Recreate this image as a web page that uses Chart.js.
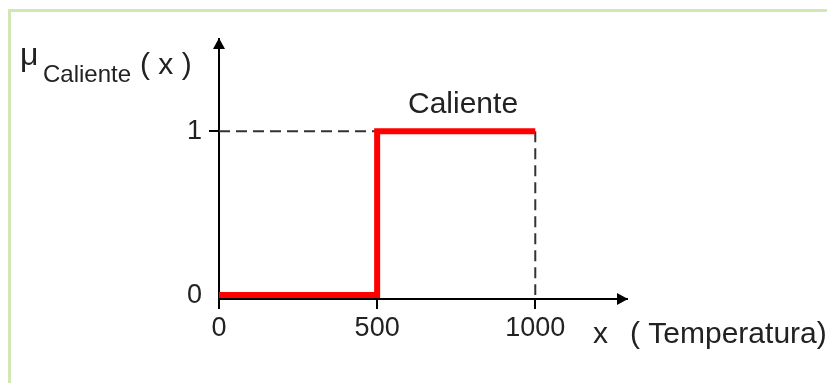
<!DOCTYPE html>
<html lang="es">
  <head>
    <meta charset="utf-8">
    <title>Caliente</title>
    <script src="https://cdn.jsdelivr.net/npm/chart.js"></script>
    <style>
      body { margin: 0; background: #fff; }
      #wrap { position: relative; width: 827px; height: 383px; }
      #frame { position: absolute; left: 8px; top: 9px; right: -10px; bottom: -10px;
               border-top: 3px solid #cfe8b4; border-left: 3px solid #cfe8b4; pointer-events: none; }
      canvas { position: absolute; left: 0; top: 0; }
    </style>
  </head>
  <body>
    <div id="wrap">
      <canvas id="myChart" width="827" height="383"></canvas>
      <div id="frame"></div>
    </div>
    <script>
      // membership function of "Caliente"
      var xValues = [0, 500, 500, 1000];
      var muValues = [0, 0, 1, 1];
      var xTicks = [0, 500, 1000];
      var yTicks = [0, 1];
      var setLabel = "Caliente";

      var FONT = '"Liberation Sans", Arial, sans-serif';

      var curve = xValues.map(function (x, i) { return { x: x, y: muValues[i] }; });
      // dashed guides to the plateau
      var guideH = [{ x: 0, y: 1 }, { x: 500, y: 1 }];
      var guideV = [{ x: 1000, y: 1 }, { x: 1000, y: 0 }];

      var decor = {
        id: "decor",
        afterDraw: function (chart) {
          var ctx = chart.ctx;
          var a = chart.chartArea;
          var sx = chart.scales.x, sy = chart.scales.y;
          ctx.save();
          // tick marks
          ctx.strokeStyle = "#000";
          ctx.lineWidth = 2;
          ctx.beginPath();
          xTicks.forEach(function (v) {
            var px = Math.round(sx.getPixelForValue(v));
            ctx.moveTo(px, a.bottom);
            ctx.lineTo(px, a.bottom + 10);
          });
          yTicks.forEach(function (v) {
            if (v === 0) return;
            var py = Math.round(sy.getPixelForValue(v));
            ctx.moveTo(a.left - 10, py);
            ctx.lineTo(a.left, py);
          });
          ctx.stroke();

          // arrow heads
          ctx.fillStyle = "#000";
          ctx.beginPath();
          ctx.moveTo(a.left, a.top - 1);
          ctx.lineTo(a.left - 6, a.top + 10);
          ctx.lineTo(a.left + 6, a.top + 10);
          ctx.closePath();
          ctx.fill();
          ctx.beginPath();
          ctx.moveTo(a.right + 1, a.bottom);
          ctx.lineTo(a.right - 10, a.bottom - 6);
          ctx.lineTo(a.right - 10, a.bottom + 6);
          ctx.closePath();
          ctx.fill();

          ctx.fillStyle = "#222";
          ctx.textBaseline = "alphabetic";
          ctx.textAlign = "left";
          ctx.font = "32px " + FONT;
          ctx.fillText("\u03BC", 20, 65);
          ctx.font = "24px " + FONT;
          ctx.fillText(setLabel, 43, 82);
          ctx.font = "30px " + FONT;
          ctx.fillText("( x )", 140, 74);
          ctx.fillText(setLabel, 408, 113);
          ctx.fillText("x", 593, 343);
          ctx.fillText("( Temperatura)", 630, 343);
          ctx.restore();
        }
      };

      new Chart("myChart", {
        type: "line",
        data: {
          datasets: [
            { data: curve, borderColor: "#ff0000", borderWidth: 6, pointRadius: 0, tension: 0 },
            { data: guideH, borderColor: "#333", borderWidth: 2, borderDash: [11, 6], pointRadius: 0 },
            { data: guideV, borderColor: "#333", borderWidth: 2, borderDash: [11, 6], pointRadius: 0 }
          ]
        },
        options: {
          responsive: false,
          animation: false,
          devicePixelRatio: 1,
          layout: { padding: { left: 0, top: 39, right: 200, bottom: 0 } },
          plugins: { legend: { display: false }, tooltip: { enabled: false } },
          scales: {
            x: {
              type: "linear",
              min: 0,
              max: 1290,
              afterBuildTicks: function (s) { s.ticks = xTicks.map(function (v) { return { value: v }; }); },
              afterFit: function (s) { s.height = 84; },
              ticks: {
                color: "#222", font: { family: FONT, size: 27 }, padding: 3, maxRotation: 0,
                callback: function (v) { return String(v); }
              },
              grid: { drawOnChartArea: false, drawTicks: true, tickLength: 10, color: "rgba(0,0,0,0)" },
              border: { display: true, color: "#000", width: 2 }
            },
            y: {
              type: "linear",
              min: -0.024,
              max: 1.564,
              afterBuildTicks: function (s) { s.ticks = yTicks.map(function (v) { return { value: v }; }); },
              afterFit: function (s) { s.width = 219; },
              ticks: { color: "#222", font: { family: FONT, size: 27 }, padding: 7 },
              grid: { drawOnChartArea: false, drawTicks: true, tickLength: 10, color: "rgba(0,0,0,0)" },
              border: { display: true, color: "#000", width: 2 }
            }
          }
        },
        plugins: [decor]
      });
    </script>
  </body>
</html>
